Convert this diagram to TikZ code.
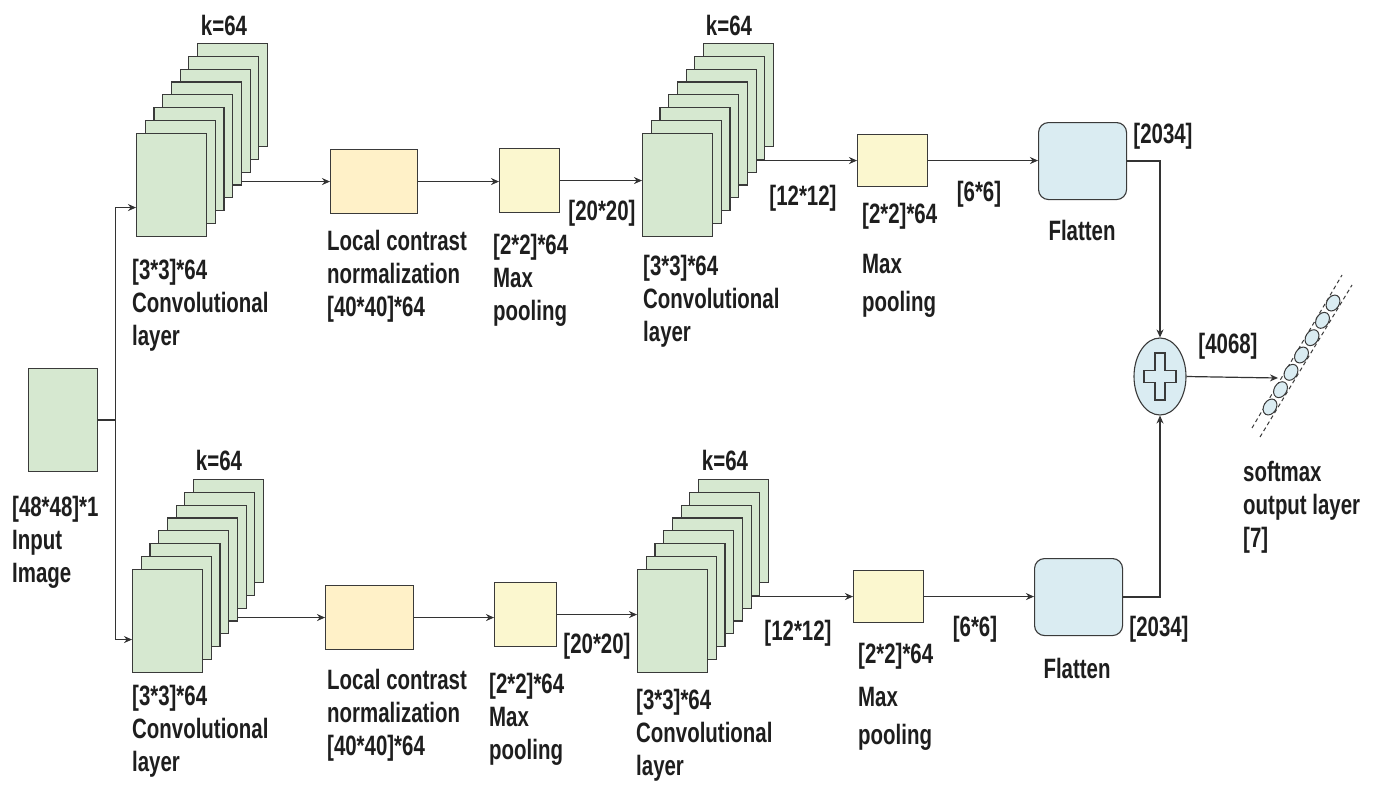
\documentclass[tikz,border=0pt]{standalone}
\usepackage{fontspec}
\newfontfamily\lblfont{Liberation Sans}[FakeStretch=0.73]
\usetikzlibrary{arrows.meta,shapes.geometric}
\definecolor{convg}{HTML}{D6E8D0}
\definecolor{lcny}{HTML}{FFF1C8}
\definecolor{pooly}{HTML}{FBF7CF}
\definecolor{flatb}{HTML}{DAECF2}
\definecolor{bordc}{HTML}{3A3A3A}
\definecolor{linec}{HTML}{333333}
\definecolor{textc}{HTML}{1E1E1E}
\newcommand\convstack[3]{%
  \foreach \i in {7,6,...,0} {\node[convr] (#1-\i) at ({#2+8.7*\i},{#3-12.9*\i}) {};}}
\begin{document}
\begin{tikzpicture}[x=1pt,y=-1pt,
  box/.style={draw=bordc, line width=1.1pt, inner sep=0pt, anchor=north west},
  convr/.style={box, fill=convg, minimum width=70pt, minimum height=103pt},
  lcnbox/.style={box, fill=lcny, minimum width=87pt, minimum height=64pt},
  poolbox/.style={box, fill=pooly},
  flatbox/.style={box, fill=flatb, rounded corners=10pt, minimum width=88pt, minimum height=77pt},
  plusn/.style={ellipse, draw=bordc, line width=1.1pt, fill=flatb, inner sep=0pt, minimum width=52pt, minimum height=77pt},
  crossst/.style={draw=bordc, line width=1.1pt, fill=flatb},
  smc/.style={ellipse, draw=bordc, line width=1pt, fill=flatb, inner sep=0pt, minimum width=17pt, minimum height=12.5pt},
  dsh/.style={draw=bordc, line width=1pt, dash pattern=on 4pt off 3pt},
  lbl/.style={font=\lblfont\bfseries\fontsize{28}{33}\selectfont, align=left, anchor=base west, inner sep=0pt, text=textc},
  ln/.style={draw=linec, line width=1.2pt},
  arr/.style={ln, -{Stealth[length=8pt,width=7pt]}}
]
\fill[white] (0,0) rectangle (1373,785);
\useasboundingbox (0,0) rectangle (1373,785);

% input (multi-line labels are placed by the baseline of their last line)
\node[box, fill=convg, minimum width=69pt, minimum height=103pt] (inp) at (28,368) {};
\node[lbl] (inpL) at (12,582) {[48*48]*1\\Input\\Image};
\coordinate (split) at ([xshift=17pt]inp.east);

% ---------- top branch ----------
\convstack{TA}{136}{133}
\node[lbl, anchor=base] (TAk) at (224,35) {k=64};
\node[lbl] (TAl) at (132,345) {[3*3]*64\\Convolutional\\layer};
\node[lcnbox] (TLCN) at (330,149) {};
\node[lbl] (TLCNl) at (327,316) {Local contrast\\normalization\\{[40*40]*64}};
\node[poolbox, minimum width=60pt, minimum height=64pt] (TP1) at (499,148) {};
\node[lbl] (TP1l) at (493,320) {[2*2]*64\\Max\\pooling};
\node[lbl, anchor=base] (T20) at (602,220) {[20*20]};
\convstack{TB}{642}{133}
\node[lbl, anchor=base] (TBk) at (729,35) {k=64};
\node[lbl] (TBl) at (643,341) {[3*3]*64\\Convolutional\\layer};
\node[lbl, anchor=base] (T12) at (803,205) {[12*12]};
\node[poolbox, minimum width=70pt, minimum height=52pt] (TP2) at (857,134) {};
\node[lbl] (TP2l) at (862,311) {[2*2]*64\\[17pt]Max\\[5pt]pooling};
\node[lbl, anchor=base] (T6) at (979,201) {[6*6]};
\node[flatbox] (TF) at (1038,122) {};
\node[lbl, anchor=base] (TFl) at (1082,240) {Flatten};
\node[lbl, anchor=base] (TFn) at (1163,143) {[2034]};

% ---------- bottom branch ----------
\convstack{BA}{132}{569}
\node[lbl, anchor=base] (BAk) at (219,470) {k=64};
\node[lbl] (BAl) at (132,771) {[3*3]*64\\Convolutional\\layer};
\node[lcnbox, minimum width=88pt] (BLCN) at (325,585) {};
\node[lbl] (BLCNl) at (327,755) {Local contrast\\normalization\\{[40*40]*64}};
\node[poolbox, minimum width=62pt, minimum height=64pt] (BP1) at (494,582) {};
\node[lbl] (BP1l) at (489,759) {[2*2]*64\\Max\\pooling};
\node[lbl, anchor=base] (B20) at (597,653) {[20*20]};
\convstack{BB}{637}{569}
\node[lbl, anchor=base] (BBk) at (725,470) {k=64};
\node[lbl] (BBl) at (636,775) {[3*3]*64\\Convolutional\\layer};
\node[lbl, anchor=base] (B12) at (798,640) {[12*12]};
\node[poolbox, minimum width=70pt, minimum height=52pt] (BP2) at (853,570) {};
\node[lbl] (BP2l) at (858,744) {[2*2]*64\\[10pt]Max\\[5pt]pooling};
\node[lbl, anchor=base] (B6) at (975,636) {[6*6]};
\node[flatbox] (BF) at (1034,558) {};
\node[lbl, anchor=base] (BFl) at (1077,678) {Flatten};
\node[lbl, anchor=base] (BFn) at (1159,636) {[2034]};

% ---------- merge and output ----------
\node[plusn] (plus) at (1160,376.5) {};
\draw[crossst] (plus.center) ++(-5,-23.5) -- ++(10,0) -- ++(0,17.5) -- ++(11,0) -- ++(0,12)
  -- ++(-11,0) -- ++(0,17.5) -- ++(-10,0) -- ++(0,-17.5) -- ++(-11,0) -- ++(0,-12) -- ++(11,0) -- cycle;
\node[lbl, anchor=base] (sumn) at (1228,353) {[4068]};
\draw[dsh] (1252,428) -- (1342,275);
\draw[dsh] (1260,437) -- (1352,285);
\foreach \i in {0,...,6} {\node[smc, rotate=58.8] (sc\i) at ({1270+10.5*\i},{407-17.33*\i}) {};}
\coordinate (sm) at (1278,378);
\node[lbl] (smL) at (1243,547) {softmax\\output layer\\{[7]}};

% ---------- connectors ----------
\draw[ln] (inp.east) -- (split);
\draw[arr] (split) |- ([yshift=-22.5pt]TA-0.west);
\draw[arr] (split) |- ([yshift=-18.5pt]BA-0.west);

\draw[arr] (TA-4.east |- TLCN.west) -- (TLCN.west);
\draw[arr] (TLCN.east) -- (TLCN.east -| TP1.west);
\draw[arr] (TP1.east) -- (TP1.east -| TB-0.west);
\draw[arr] (TB-5.east |- TP2.west) -- (TP2.west);
\draw[arr] (TP2.east) -- (TP2.east -| TF.west);
\draw[arr] (TF.east) -| (plus.north);

\draw[arr] (BA-4.east |- BLCN.west) -- (BLCN.west);
\draw[arr] (BLCN.east) -- (BLCN.east -| BP1.west);
\draw[arr] (BP1.east) -- (BP1.east -| BB-0.west);
\draw[arr] (BB-5.east |- BP2.west) -- (BP2.west);
\draw[arr] (BP2.east) -- (BP2.east -| BF.west);
\draw[arr] (BF.east) -| (plus.south);

\draw[arr] (plus.east) -- (sm);
\end{tikzpicture}
\end{document}
